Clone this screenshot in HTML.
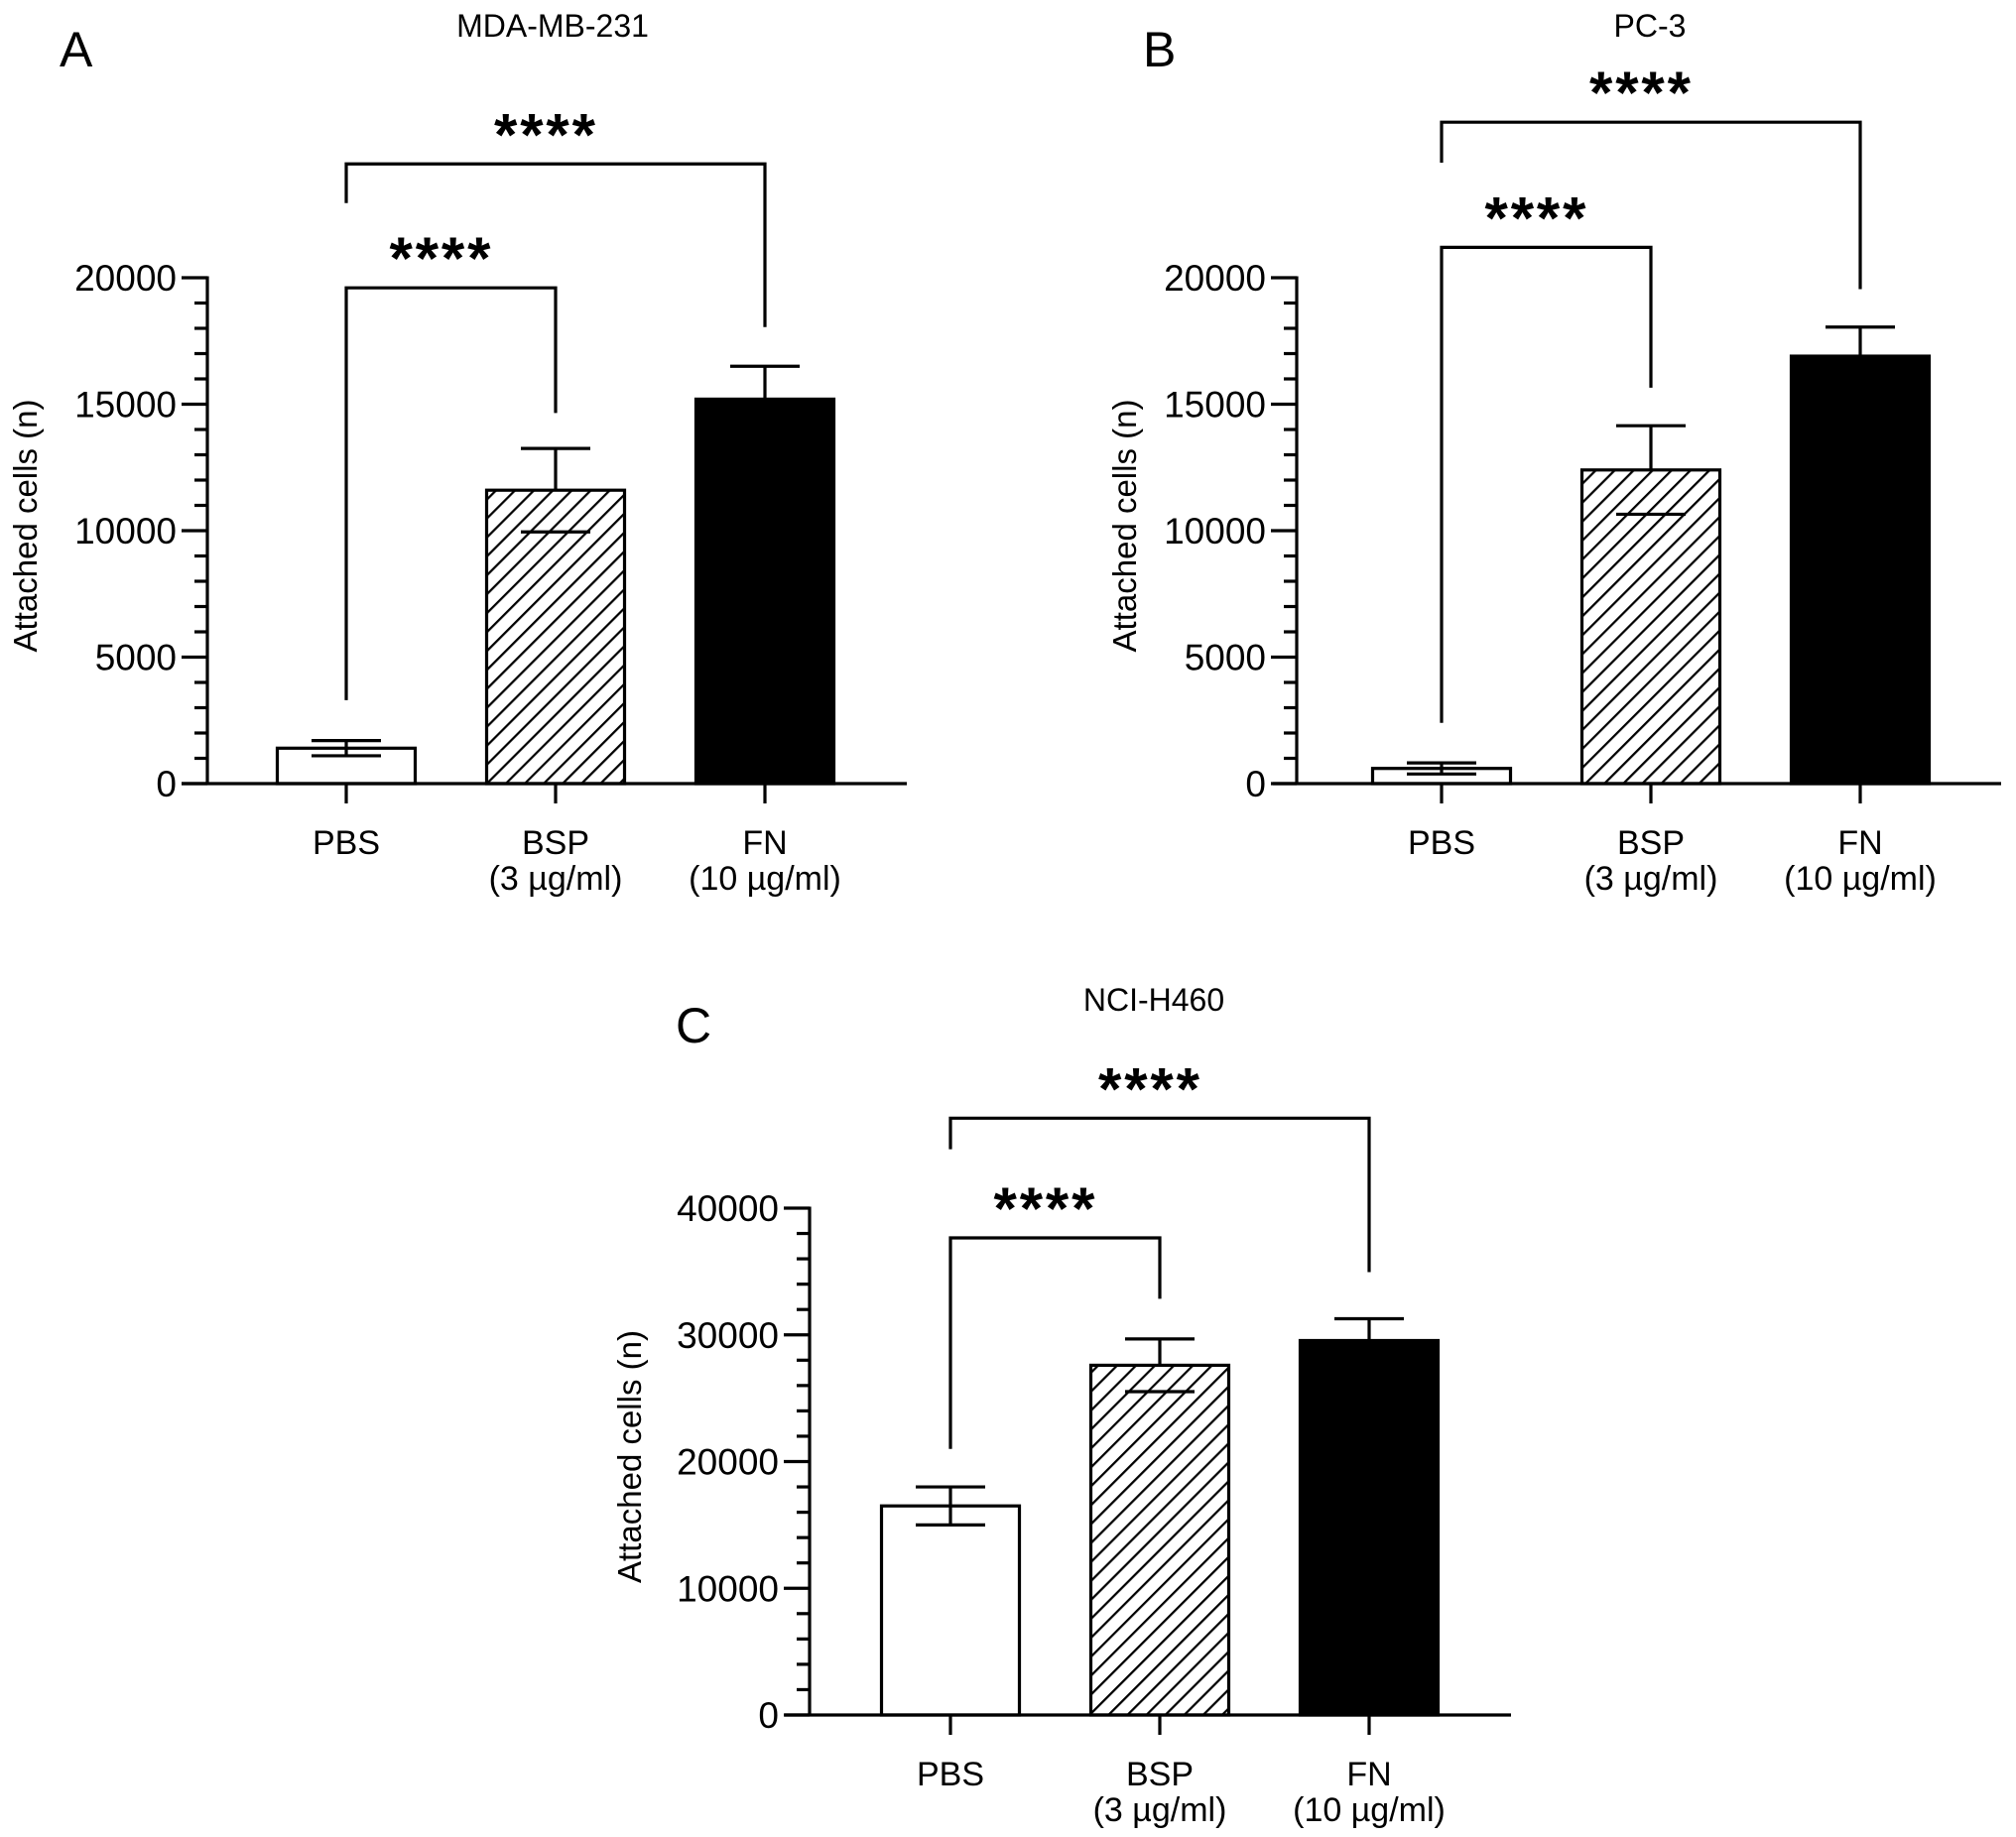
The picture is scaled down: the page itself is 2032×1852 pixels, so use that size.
<!DOCTYPE html>
<html><head><meta charset="utf-8">
<style>
html,body{margin:0;padding:0;background:#fff;}
svg{display:block;font-family:"Liberation Sans",Arial,sans-serif;}
</style></head>
<body>
<svg id="fig" width="2032" height="1852" viewBox="0 0 2032 1852" xmlns="http://www.w3.org/2000/svg">
<defs>
<pattern id="hatch" patternUnits="userSpaceOnUse" width="13.5" height="13.5" patternTransform="rotate(45)">
<line x1="0" y1="0" x2="0" y2="13.5" stroke="#000" stroke-width="4.5"/>
</pattern>
</defs>
</svg>
<script>
// ---- data ----
const categories = ["PBS", "BSP", "FN"];
const categorySub = ["", "(3 µg/ml)", "(10 µg/ml)"];
const valuesA = [1400, 11600, 15200];
const errorsA = [300, 1650, 1300];
const valuesB = [600, 12400, 16900];
const errorsB = [220, 1750, 1150];
const valuesC = [16500, 27600, 29550];
const errorsC = [1500, 2080, 1720];
const ticksAB = [0, 5000, 10000, 15000, 20000];
const ticksC = [0, 10000, 20000, 30000, 40000];
const sigLabels = ["****", "****"];

const NS = "http://www.w3.org/2000/svg";
const svg = document.getElementById("fig");
function mk(tag, attrs, parent, text) {
  const e = document.createElementNS(NS, tag);
  for (const k in attrs) e.setAttribute(k, attrs[k]);
  if (text !== undefined) e.textContent = text;
  (parent || svg).appendChild(e);
  return e;
}

function panel(cfg) {
  const g = mk("g", {});
  
  
  const x0 = cfg.axisX, y0 = cfg.y0, yTop = cfg.yTop, maxV = cfg.ticks[cfg.ticks.length - 1];
  const ys = v => y0 - (v / maxV) * (y0 - yTop);
  const xs = i => cfg.firstCenter + i * cfg.step;
  const sw = 3.2;

  const L = mk("text", {x: cfg.letterX, y: cfg.letterY, "font-size": 50}, g, cfg.letter);
  
  
  const T = mk("text", {x: cfg.titleX, y: cfg.titleY, "font-size": 32, "text-anchor": "middle"}, g, cfg.title);
  
  

  cfg.values.forEach((v, i) => {
    const cx = xs(i), w = 139;
    const fill = i === 0 ? "#fff" : (i === 1 ? "url(#hatch)" : "#000");
    const r = mk("rect", {x: cx - w / 2, y: ys(v), width: w, height: y0 - ys(v), fill: fill, stroke: "#000", "stroke-width": sw}, g);
    
    
    const e = cfg.errors[i];
    const eg = mk("g", {stroke: "#000", "stroke-width": sw}, g);
    
    
    const lo = i === 0 ? v - e : v;
    mk("line", {x1: cx, x2: cx, y1: ys(lo), y2: ys(v + e)}, eg);
    mk("line", {x1: cx - 35, x2: cx + 35, y1: ys(v + e), y2: ys(v + e)}, eg);
    mk("line", {x1: cx - 35, x2: cx + 35, y1: ys(v - e), y2: ys(v - e)}, eg);
  });

  const ya = mk("g", {stroke: "#000", "stroke-width": sw}, g);
  
  
  mk("line", {x1: x0, x2: x0, y1: yTop - 1.5, y2: y0}, ya);
  const minorStep = (cfg.ticks[1] - cfg.ticks[0]) / 5;
  for (let v = 0; v <= maxV + 1e-6; v += minorStep) {
    const major = cfg.ticks.some(t => Math.abs(t - v) < 1e-6);
    mk("line", {x1: x0 - (major ? 26 : 13), x2: x0, y1: ys(v), y2: ys(v)}, ya);
  }
  cfg.ticks.forEach(t => {
    const tl = mk("text", {x: x0 - 31, y: ys(t) + 13, "font-size": 37, "text-anchor": "end"}, g, String(t));
    
    
  });
  const yt = mk("text", {x: 0, y: 0, "font-size": 33, "text-anchor": "middle",
    transform: `translate(${cfg.yLabelX},${(y0 + yTop) / 2 - 5}) rotate(-90)`}, g, "Attached cells (n)");
  
  

  const xa = mk("g", {stroke: "#000", "stroke-width": sw}, g);
  
  
  mk("line", {x1: cfg.xAxisL, x2: cfg.xAxisR, y1: y0, y2: y0}, xa);
  categories.forEach((c, i) => {
    mk("line", {x1: xs(i), x2: xs(i), y1: y0, y2: y0 + 20}, xa);
    const t1 = mk("text", {x: xs(i), y: y0 + 71, "font-size": 34, "text-anchor": "middle"}, g, c);
    
    
    if (categorySub[i]) {
      const t2 = mk("text", {x: xs(i), y: y0 + 107, "font-size": 34, "text-anchor": "middle"}, g, categorySub[i]);
      
      
    }
  });

  cfg.brackets.forEach((b, k) => {
    const bg = mk("g", {fill: "none", stroke: "#000", "stroke-width": sw}, g);
    
    
    const xl = xs(b.from), xr = xs(b.to);
    mk("polyline", {points: `${xl},${ys(b.leftEnd)} ${xl},${ys(b.level)} ${xr},${ys(b.level)} ${xr},${ys(b.rightEnd)}`}, bg);
    const st = mk("text", {x: (xl + xr) / 2 - 11, y: ys(b.level) - 9, "font-size": 60, "font-weight": "bold",
      "text-anchor": "middle", textLength: 102, lengthAdjust: "spacing"}, g, sigLabels[k]);
    
    
  });
}

const bracketsA = [
  {from: 0, to: 2, level: 24500, leftEnd: 22950, rightEnd: 18050},
  {from: 0, to: 1, level: 19600, leftEnd: 3300, rightEnd: 14650}
];
const bracketsB = [
  {from: 0, to: 2, level: 26150, leftEnd: 24550, rightEnd: 19550},
  {from: 0, to: 1, level: 21200, leftEnd: 2400, rightEnd: 15650}
];
const bracketsC = [
  {from: 0, to: 2, level: 47100, leftEnd: 44650, rightEnd: 34950},
  {from: 0, to: 1, level: 37650, leftEnd: 21000, rightEnd: 32850}
];

panel({id: "a", letter: "A", letterX: 60, letterY: 67, title: "MDA-MB-231", titleX: 557, titleY: 37,
  axisX: 209, y0: 790, yTop: 280, ticks: ticksAB, values: valuesA, errors: errorsA,
  firstCenter: 349, step: 211, xAxisL: 183, xAxisR: 914, yLabelX: 37, brackets: bracketsA});
panel({id: "b", letter: "B", letterX: 1152, letterY: 67, title: "PC-3", titleX: 1663, titleY: 37,
  axisX: 1307, y0: 790, yTop: 280, ticks: ticksAB, values: valuesB, errors: errorsB,
  firstCenter: 1453, step: 211, xAxisL: 1283, xAxisR: 2017, yLabelX: 1145, brackets: bracketsB});
panel({id: "c", letter: "C", letterX: 681, letterY: 1051, title: "NCI-H460", titleX: 1163, titleY: 1019,
  axisX: 816, y0: 1729, yTop: 1218, ticks: ticksC, values: valuesC, errors: errorsC,
  firstCenter: 958, step: 211, xAxisL: 791, xAxisR: 1523, yLabelX: 646, brackets: bracketsC});
</script>
</body></html>
